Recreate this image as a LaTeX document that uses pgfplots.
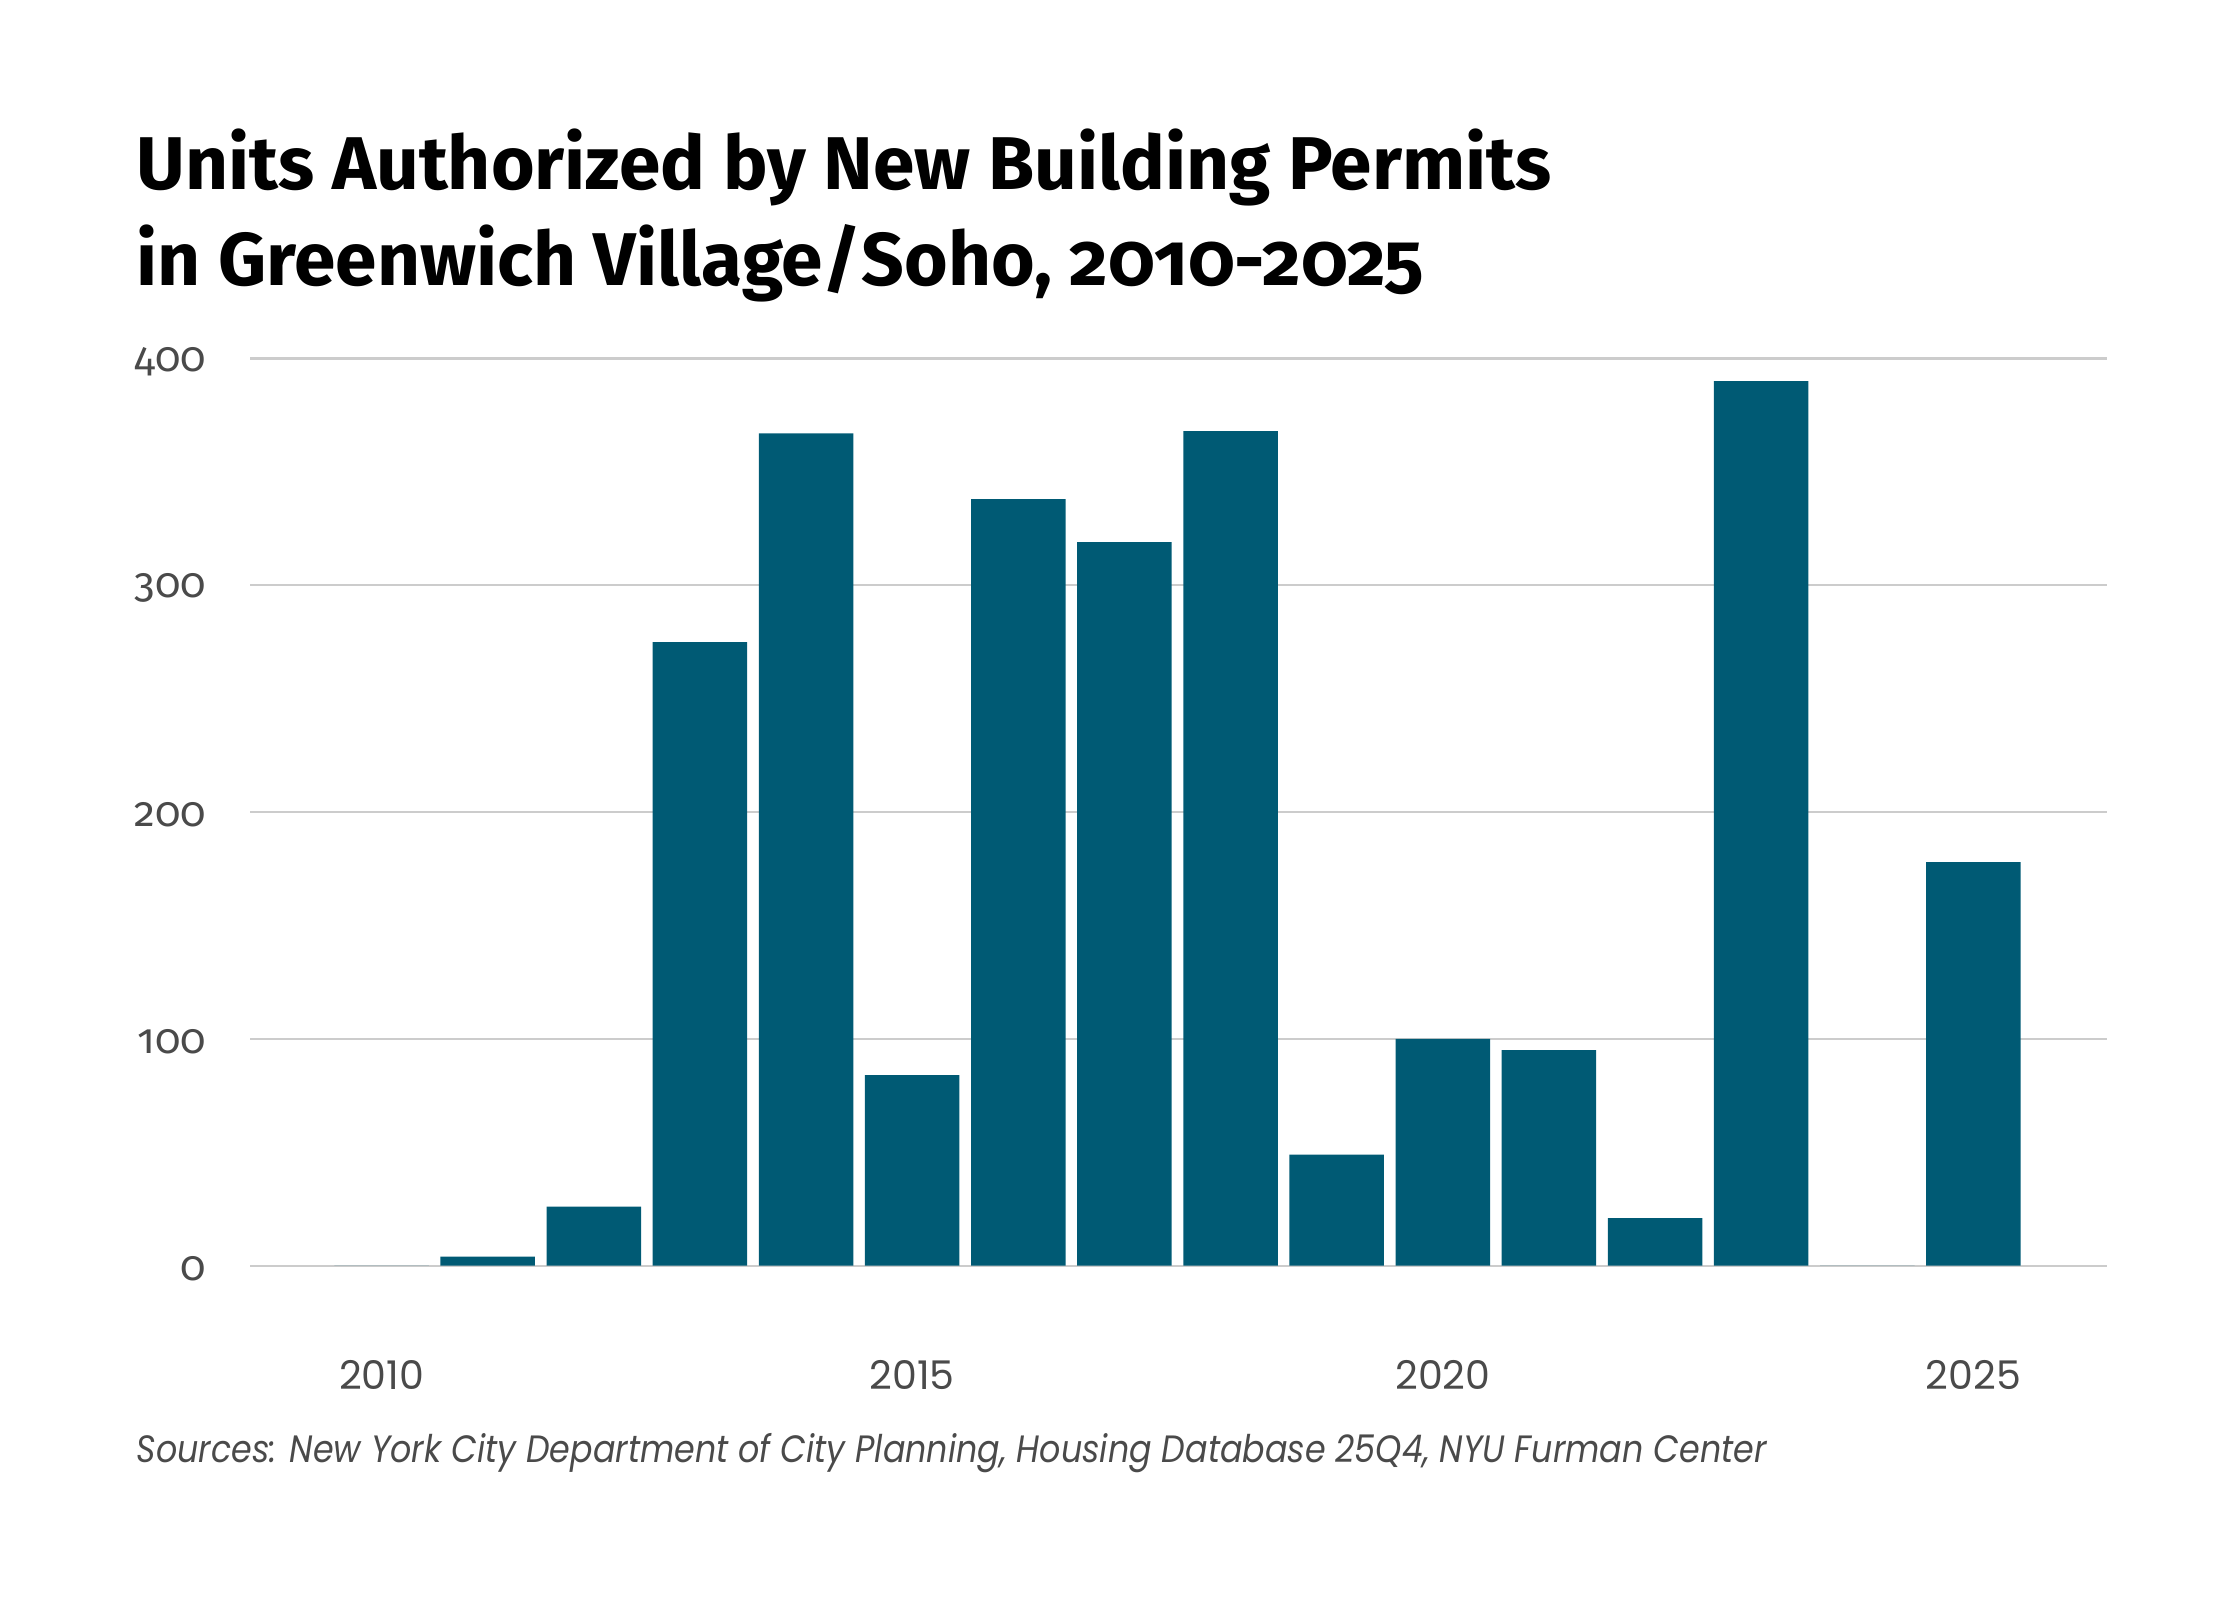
\documentclass[border=0pt]{standalone}
\usepackage{pgfplots}
\pgfplotsset{compat=1.18}
\usepackage{fontspec}
\setmainfont{Fira Sans}
\newfontfamily\titlefont{Fira Sans}[Numbers=OldStyle]
\newfontfamily\yfont{Fira Sans}[Numbers=OldStyle]
\newfontfamily\popfont{Poppins}
\newfontfamily\popnarrow{Poppins}[FakeStretch=0.875]
\definecolor{barcol}{HTML}{005A74}
\definecolor{gridcol}{HTML}{CCCCCC}
\definecolor{labcol}{HTML}{4A4A4A}
\begin{document}
\begin{tikzpicture}[x=1pt,y=1pt]
\useasboundingbox (0,0) rectangle (470.4,336);
\begin{axis}[
  at={(52.5pt,70.2pt)}, anchor=south west,
  scale only axis, width=390pt, height=190.5pt,
  xmin=2008.76, xmax=2026.26, ymin=0, ymax=400,
  axis line style={draw=none},
  major tick length=0pt,
  ytick={0,100,200,300,400},
  xtick={2010,2015,2020,2025},
  ymajorgrids, grid style={gridcol, line width=0.45pt},
  /pgf/number format/assume math mode=true,
  xticklabel={\popfont\pgfmathprintnumber[1000 sep={}]{\tick}},
  yticklabel={\yfont\pgfmathprintnumber{\tick}},
  xticklabel style={anchor=north, inner sep=0pt, yshift=-19.6pt, font=\fontsize{8.3}{9}\selectfont, text=labcol},
  yticklabel style={anchor=east, inner sep=0pt, xshift=-9pt, yshift=-0.6pt, font=\fontsize{8.8}{10}\selectfont, text=labcol},
  ybar, bar width=0.89,
]
\addplot[fill=barcol, draw=none] coordinates {
(2010,0) (2011,4) (2012,26) (2013,275) (2014,367) (2015,84) (2016,338) (2017,319)
(2018,368) (2019,49) (2020,100) (2021,95) (2022,21) (2023,390) (2024,0) (2025,178)
};
\end{axis}
\node[anchor=base west, inner sep=0pt, font=\titlefont\bfseries\fontsize{15.7}{18}\selectfont] at (28.5,296.1) {Units Authorized by New Building Permits};
\node[anchor=base west, inner sep=0pt, font=\titlefont\bfseries\fontsize{15.7}{18}\selectfont] at (28.5,276) {in Greenwich Village/Soho, 2010-2025};
\node[anchor=base west, inner sep=0pt, text=labcol, font=\popnarrow\itshape\fontsize{8}{10}\selectfont] at (28.5,28.8) {Sources: New York City Department of City Planning, Housing Database 25Q4, NYU Furman Center};
\end{tikzpicture}
\end{document}
